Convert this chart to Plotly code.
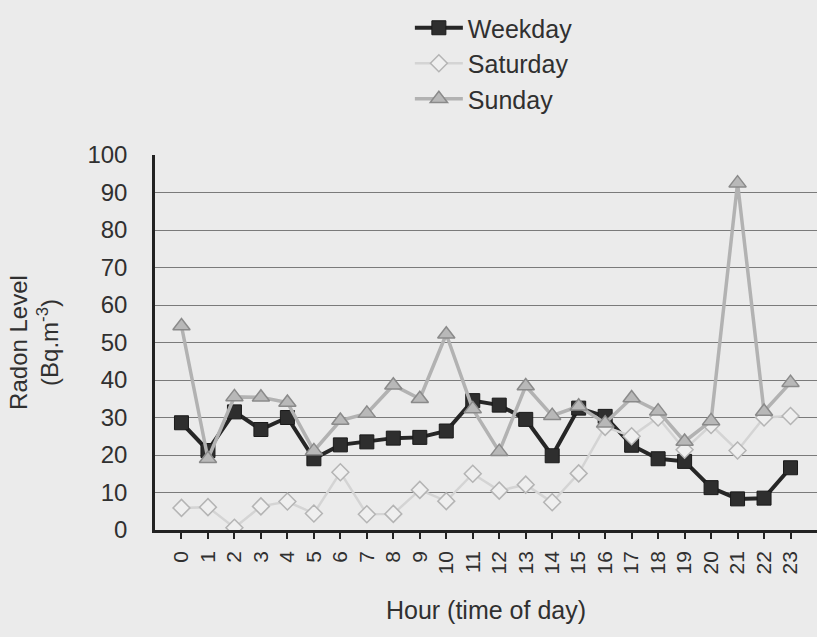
import plotly.graph_objects as go

hours = ["0", "1", "2", "3", "4", "5", "6", "7", "8", "9", "10", "11",
         "12", "13", "14", "15", "16", "17", "18", "19", "20", "21", "22", "23"]

weekday = [28.6, 21.2, 31.5, 26.8, 30.0, 19.0, 22.7, 23.5, 24.5, 24.7, 26.4, 34.5,
           33.3, 29.5, 19.8, 32.5, 30.3, 22.6, 19.0, 18.3, 11.3, 8.3, 8.5, 16.6]
saturday = [5.9, 6.1, 0.6, 6.3, 7.6, 4.4, 15.4, 4.2, 4.3, 10.7, 7.7, 15.0,
            10.5, 12.1, 7.4, 15.1, 27.5, 25.0, 30.0, 21.4, 28.0, 21.2, 30.0, 30.4]
sunday = [54.4, 19.0, 35.5, 35.4, 34.0, 21.1, 29.2, 31.1, 38.6, 35.0, 52.2, 32.3,
          20.9, 38.4, 30.5, 33.0, 28.5, 35.2, 31.7, 23.6, 29.1, 92.5, 31.6, 39.3]

y_ticks = [0, 10, 20, 30, 40, 50, 60, 70, 80, 90, 100]

FONT = "Liberation Sans, Arial, sans-serif"
BG = "#ebebeb"

fig = go.Figure()
fig.add_trace(go.Scatter(
    x=hours, y=weekday, name="Weekday", mode="lines+markers",
    line=dict(color="#262626", width=4),
    marker=dict(symbol="square", size=14, color="#2e2e2e",
                line=dict(color="#1a1a1a", width=1)),
))
fig.add_trace(go.Scatter(
    x=hours, y=saturday, name="Saturday", mode="lines+markers",
    line=dict(color="#d4d4d4", width=2.5),
    marker=dict(symbol="diamond", size=13, color="#efefef",
                line=dict(color="#b4b4b4", width=1.5)),
))
fig.add_trace(go.Scatter(
    x=hours, y=sunday, name="Sunday", mode="lines+markers",
    line=dict(color="#b2b2b2", width=3.5),
    marker=dict(symbol="triangle-up", size=15, color="#b8b8b8",
                line=dict(color="#8a8a8a", width=1.5)),
))

fig.update_layout(
    width=817, height=637,
    margin=dict(l=155, r=0, t=155, b=107),
    paper_bgcolor=BG, plot_bgcolor=BG,
    font=dict(family=FONT, color="#303030"),
    showlegend=True,
    legend=dict(
        x=0.385, y=1.40, xanchor="left", yanchor="top",
        bgcolor="rgba(0,0,0,0)", font=dict(size=25, color="#303030"),
        tracegroupgap=0, itemwidth=48,
    ),
    xaxis=dict(
        type="category", categoryorder="array", categoryarray=hours,
        range=[-1, 24], tickangle=-90,
        tickfont=dict(size=21, color="#303030"),
        ticks="outside", ticklen=6, tickcolor="#222", tickwidth=1.5,
        ticklabelstandoff=4,
        showline=True, linecolor="#222", linewidth=2.5,
        showgrid=False, zeroline=False,
        title=dict(text="Hour (time of day)", font=dict(size=25, color="#303030"),
                   standoff=28),
    ),
    yaxis=dict(
        range=[0, 100], tickvals=y_ticks,
        tickfont=dict(size=24, color="#303030"),
        ticks="", ticklabelstandoff=20,
        showline=True, linecolor="#222", linewidth=2.5,
        showgrid=True, gridcolor="#7a7a7a", gridwidth=1.2,
        zeroline=False,
        title=dict(text="Radon Level<br>(Bq.m<sup>-3</sup>)",
                   font=dict(size=24, color="#303030"), standoff=22),
    ),
)

fig.write_html(
    "out.html",
    config={"displayModeBar": False},
    post_script="document.body.style.margin='0';document.body.style.padding='0';"
                "document.body.style.background='#ebebeb';",
)
